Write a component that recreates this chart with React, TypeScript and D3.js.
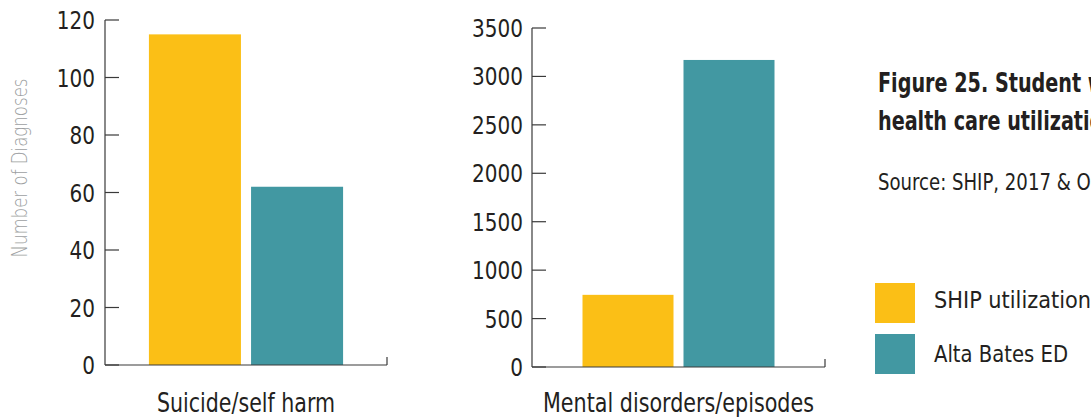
import React from "react";
import * as d3 from "d3";

const series = ["SHIP utilization", "Alta Bates ED"];
const colors = ["#FBBF16", "#4298A2"];
const leftCategory = "Suicide/self harm";
const leftValues = [115, 62];
const leftTicks = [0, 20, 40, 60, 80, 100, 120];
const rightCategory = "Mental disorders/episodes";
const rightValues = [745, 3170];
const rightTicks = [0, 500, 1000, 1500, 2000, 2500, 3000, 3500];
const yLabel = "Number of Diagnoses";
const titleLines = ["Figure 25. Student with mental", "health care utilization"];
const source = "Source: SHIP, 2017 & OSHPD, 2017";

const FONT = "'DejaVu Sans Condensed', 'DejaVu Sans', sans-serif";
const TEXT = "#231f20";
const AXIS = "#3a3a3a";

type PanelProps = {
  x0: number; x1: number; yTop: number; yBottom: number; padOuter: number;
  max: number; ticks: number[]; values: number[]; category: string; labelGap: number; catWidth: number;
};

function Panel({ x0, x1, yTop, yBottom, padOuter, max, ticks, values, category, labelGap, catWidth }: PanelProps) {
  const y = d3.scaleLinear().domain([0, max]).range([yBottom, yTop]);
  const x = d3.scaleBand<string>().domain(series).range([x0, x1]).paddingInner(0.099).paddingOuter(padOuter);
  return (
    <g>
      {values.map((v, i) => (
        <rect key={i} x={x(series[i])} y={y(v)} width={x.bandwidth()} height={y(0) - y(v)} fill={colors[i]} />
      ))}
      <line x1={x0} x2={x0} y1={yTop} y2={yBottom} stroke={AXIS} strokeWidth={1.2} />
      <line x1={x0} x2={x1} y1={yBottom} y2={yBottom} stroke={AXIS} strokeWidth={1.2} />
      <line x1={x1} x2={x1} y1={yBottom - 8} y2={yBottom} stroke={AXIS} strokeWidth={1.2} />
      {ticks.map((t) => (
        <g key={t}>
          <line x1={x0} x2={x0 + 14} y1={y(t)} y2={y(t)} stroke={AXIS} strokeWidth={1.2} />
          <text
            transform={`translate(${x0 - labelGap},${y(t) + 9}) scale(0.89,1)`}
            textAnchor="end" fontSize={25} fill={TEXT} fontFamily={FONT}
          >
            {t}
          </text>
        </g>
      ))}
      <text
        x={(x0 + x1) / 2 - catWidth / 2} y={412} fontSize={27} fill={TEXT} fontFamily={FONT}
        textLength={catWidth} lengthAdjust="spacingAndGlyphs"
      >
        {category}
      </text>
    </g>
  );
}

export default function App() {
  return (
    <svg width={1091} height={417} style={{ position: "absolute", left: 0, top: 0, background: "#fff" }}>
      <rect width={1091} height={417} fill="#fff" />
      <g transform="translate(27,168) rotate(-90)">
        <text
          x={-89.5} y={0} fontSize={22} fill="#9d9fa2" fontFamily="'DejaVu Sans', sans-serif" fontWeight={200}
          textLength={179} lengthAdjust="spacingAndGlyphs"
        >
          {yLabel}
        </text>
      </g>
      <Panel x0={105} x1={387} yTop={20} yBottom={365} padOuter={0.43} max={120} ticks={leftTicks} values={leftValues} category={leftCategory} labelGap={10} catWidth={178} />
      <Panel x0={532} x1={825} yTop={28} yBottom={367} padOuter={0.5} max={3500} ticks={rightTicks} values={rightValues} category={rightCategory} labelGap={9} catWidth={271} />
      {titleLines.map((l, i) => (
        <text
          key={i} transform={`translate(878,${92 + i * 38}) scale(0.79,1)`}
          fontSize={27} fontWeight={700} fill={TEXT} fontFamily={FONT}
        >
          {l}
        </text>
      ))}
      <text transform="translate(878,190) scale(0.875,1)" fontSize={23} fill={TEXT} fontFamily={FONT}>
        {source}
      </text>
      {series.map((s, i) => (
        <g key={s}>
          <rect x={875} y={283 + i * 51} width={40} height={40} fill={colors[i]} />
          <text
            x={934} y={308 + i * 54} fontSize={23} fill={TEXT} fontFamily={FONT}
            textLength={i === 0 ? 157 : 134} lengthAdjust="spacingAndGlyphs"
          >
            {s}
          </text>
        </g>
      ))}
    </svg>
  );
}
